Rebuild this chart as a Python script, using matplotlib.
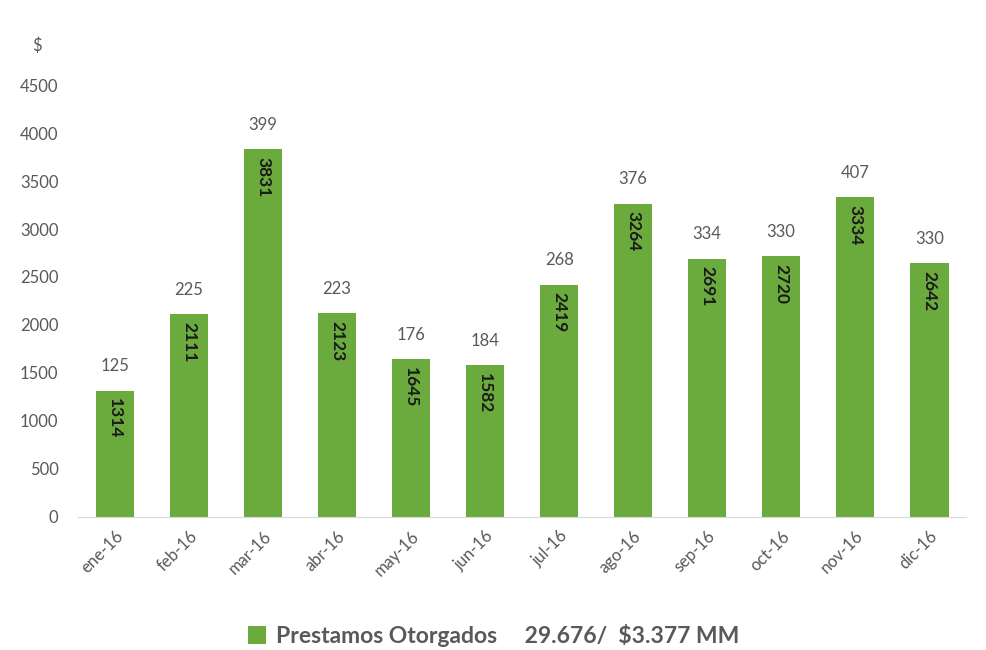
import matplotlib
matplotlib.use('Agg')
import matplotlib.pyplot as plt
from matplotlib.patches import Patch

plt.rcParams['font.family'] = ['Lato', 'DejaVu Sans']

months = ['ene-16', 'feb-16', 'mar-16', 'abr-16', 'may-16', 'jun-16',
          'jul-16', 'ago-16', 'sep-16', 'oct-16', 'nov-16', 'dic-16']
amounts = [1314, 2111, 3831, 2123, 1645, 1582, 2419, 3264, 2691, 2720, 3334, 2642]
counts = [125, 225, 399, 223, 176, 184, 268, 376, 334, 330, 407, 330]
yticks = [0, 500, 1000, 1500, 2000, 2500, 3000, 3500, 4000, 4500]
legend_label = 'Prestamos Otorgados     29.676/  $3.377 MM'

GREEN = '#6BAA3C'
GRAY = '#595959'

fig = plt.figure(figsize=(9.87, 6.5), dpi=100)
ax = fig.add_axes([0.079, 0.205, 0.9, 0.664])

x = range(len(months))
bars = ax.bar(x, amounts, width=0.52, color=GREEN)

for i, (a, c) in enumerate(zip(amounts, counts)):
    ax.text(i, a - 80, str(a), rotation=270, ha='center', va='top',
            fontsize=12.5, fontweight='bold', color='#1a1a1a')
    ax.text(i, a + 170, str(c), ha='center', va='bottom',
            fontsize=12, color=GRAY)

ax.set_ylim(0, 4500)
ax.set_xlim(-0.5, len(months) - 0.5)
ax.set_yticks(yticks)
ax.set_xticks(list(x))
ax.set_xticklabels(months, rotation=45, ha='right', rotation_mode='anchor')
ax.tick_params(axis='both', length=0, labelsize=12, labelcolor=GRAY)
ax.tick_params(axis='y', pad=14)
ax.tick_params(axis='x', pad=8)

for s in ['top', 'right', 'left']:
    ax.spines[s].set_visible(False)
ax.spines['bottom'].set_color('#d9d9d9')

fig.text(0.037, 0.93, '$', fontsize=12, color=GRAY, ha='center', va='center')

handle = Patch(facecolor=GREEN, edgecolor='none')
fig.legend([handle], [legend_label], loc='center', bbox_to_anchor=(0.5, 0.022),
           frameon=False, prop={'size': 16.5, 'weight': 'bold'},
           labelcolor=GRAY, handlelength=0.8, handleheight=0.8, handletextpad=0.4)

fig.savefig('out.png', dpi=100)
